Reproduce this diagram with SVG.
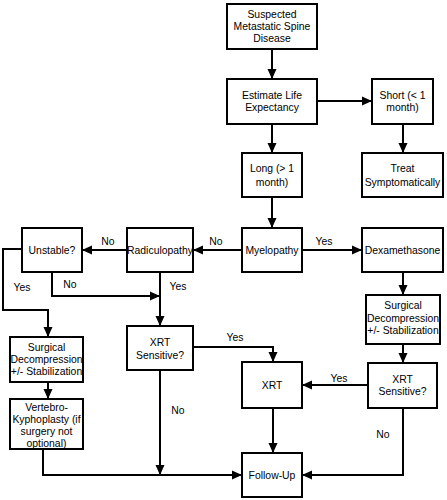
<svg xmlns="http://www.w3.org/2000/svg" width="447" height="500" viewBox="0 0 447 500">
<style>
.box{fill:#fff;stroke:#000;stroke-width:2}
.t{font-family:"Liberation Sans",Arial,sans-serif;font-size:10.4px;fill:#000;text-anchor:middle}
.c{fill:none;stroke:#000;stroke-width:2}
</style>
<defs>
<marker id="ah" markerUnits="userSpaceOnUse" markerWidth="10" markerHeight="10" viewBox="0 0 10 10" refX="10" refY="5" orient="auto">
<path d="M0,0.5 L10,5 L0,9.5 Z" fill="#000"/>
</marker>
</defs>
<rect width="447" height="500" fill="#fff"/>
<g id="connectors">
<path class="c" d="M272,49 V79" marker-end="url(#ah)"/>
<path class="c" d="M317,101 H372" marker-end="url(#ah)"/>
<path class="c" d="M272,124 V153" marker-end="url(#ah)"/>
<path class="c" d="M403,124 V153" marker-end="url(#ah)"/>
<path class="c" d="M272,197 V228" marker-end="url(#ah)"/>
<path class="c" d="M242,250 H193" marker-end="url(#ah)"/>
<path class="c" d="M302,250 H362" marker-end="url(#ah)"/>
<path class="c" d="M127,250 H82" marker-end="url(#ah)"/>
<path class="c" d="M22,249 H3 V310 H48 V337" marker-end="url(#ah)"/>
<path class="c" d="M52,273 V296 H160" marker-end="url(#ah)"/>
<path class="c" d="M160,273 V326" marker-end="url(#ah)"/>
<path class="c" d="M403,272 V295" marker-end="url(#ah)"/>
<path class="c" d="M403,344 V363" marker-end="url(#ah)"/>
<path class="c" d="M48,382 V399" marker-end="url(#ah)"/>
<path class="c" d="M43,449 V475 H242" marker-end="url(#ah)"/>
<path class="c" d="M160,370 V475" marker-end="url(#ah)"/>
<path class="c" d="M193,347 H273 V362" marker-end="url(#ah)"/>
<path class="c" d="M273,408 V453" marker-end="url(#ah)"/>
<path class="c" d="M368,385 H302" marker-end="url(#ah)"/>
<path class="c" d="M403,408 V475 H302" marker-end="url(#ah)"/>
<text class="t" x="108" y="245">No</text>
<text class="t" x="216" y="245">No</text>
<text class="t" x="324" y="245">Yes</text>
<text class="t" x="70" y="288">No</text>
<text class="t" x="22" y="291">Yes</text>
<text class="t" x="178" y="290">Yes</text>
<text class="t" x="235" y="341">Yes</text>
<text class="t" x="178" y="414">No</text>
<text class="t" x="339" y="382">Yes</text>
<text class="t" x="383" y="438">No</text>
</g>
<g id="suspected"><rect class="box" x="227" y="4" width="90" height="45"/>
<text class="t" x="272" y="18">Suspected</text><text class="t" x="272" y="30">Metastatic Spine</text><text class="t" x="272" y="42">Disease</text></g>
<g id="estimate"><rect class="box" x="227" y="79" width="90" height="45"/>
<text class="t" x="272" y="99">Estimate Life</text><text class="t" x="272" y="111">Expectancy</text></g>
<g id="short"><rect class="box" x="372" y="79" width="61" height="45"/>
<text class="t" x="402.5" y="99">Short (&lt; 1</text><text class="t" x="402.5" y="111">month)</text></g>
<g id="long"><rect class="box" x="242" y="153" width="60" height="44"/>
<text class="t" x="272" y="172">Long (&gt; 1</text><text class="t" x="272" y="186">month)</text></g>
<g id="treat"><rect class="box" x="362" y="153" width="81" height="44"/>
<text class="t" x="402.5" y="172">Treat</text><text class="t" x="402.5" y="186">Symptomatically</text></g>
<g id="myelopathy"><rect class="box" x="242" y="228" width="60" height="44"/>
<text class="t" x="272" y="254">Myelopathy</text></g>
<g id="radiculopathy"><rect class="box" x="127" y="228" width="66" height="44"/>
<text class="t" x="160" y="254">Radiculopathy</text></g>
<g id="unstable"><rect class="box" x="22" y="228" width="60" height="44"/>
<text class="t" x="52" y="254">Unstable?</text></g>
<g id="dexamethasone"><rect class="box" x="362" y="228" width="81" height="44"/>
<text class="t" x="402.5" y="254">Dexamethasone</text></g>
<g id="surgical-right"><rect class="box" x="366" y="295" width="74" height="49"/>
<text class="t" x="403" y="309">Surgical</text><text class="t" x="403" y="322">Decompression</text><text class="t" x="403" y="334">+/- Stabilization</text></g>
<g id="xrt-sensitive-left"><rect class="box" x="127" y="326" width="66" height="44"/>
<text class="t" x="160" y="346">XRT</text><text class="t" x="160" y="359">Sensitive?</text></g>
<g id="surgical-left"><rect class="box" x="10" y="337" width="73" height="45"/>
<text class="t" x="46.5" y="351">Surgical</text><text class="t" x="46.5" y="363">Decompression</text><text class="t" x="46.5" y="375">+/- Stabilization</text></g>
<g id="vertebro"><rect class="box" x="10" y="399" width="73" height="50"/>
<text class="t" x="46.5" y="411">Vertebro-</text><text class="t" x="46.5" y="423">Kyphoplasty (if</text><text class="t" x="46.5" y="435">surgery not</text><text class="t" x="46.5" y="447">optional)</text></g>
<g id="xrt"><rect class="box" x="242" y="362" width="60" height="46"/>
<text class="t" x="272" y="389">XRT</text></g>
<g id="xrt-sensitive-right"><rect class="box" x="368" y="363" width="69" height="45"/>
<text class="t" x="402.5" y="383">XRT</text><text class="t" x="402.5" y="395">Sensitive?</text></g>
<g id="follow-up"><rect class="box" x="242" y="453" width="60" height="44"/>
<text class="t" x="272" y="479">Follow-Up</text></g>
</svg>
